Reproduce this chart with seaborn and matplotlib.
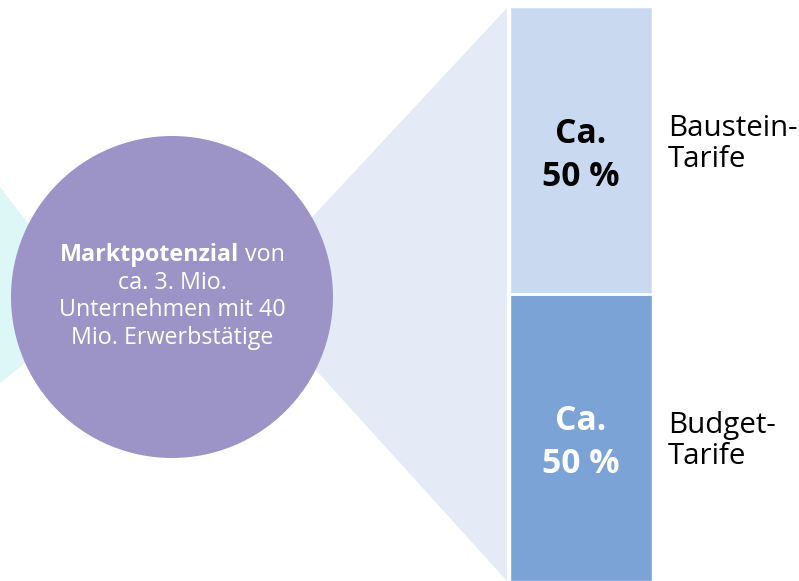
import matplotlib
matplotlib.use("Agg")
import matplotlib.pyplot as plt
from matplotlib.patches import Circle, Polygon
import seaborn as sns
import pandas as pd

# ---- data ----
segments = ["Budget-Tarife", "Baustein-Tarife"]
shares = [50, 50]
segment_labels = ["Budget-\nTarife", "Baustein-\nTarife"]
value_labels = ["Ca.\n50 %", "Ca.\n50 %"]
circle_bold = "Marktpotenzial"
circle_rest_first = " von"
circle_lines = ["ca. 3. Mio.", "Unternehmen mit 40", "Mio. Erwerbstätige"]

# ---- colours ----
c_cyan = "#DDF6F6"
c_purple = "#9C94C7"
c_funnel = "#E4EAF6"
c_light = "#C9DAF0"
c_dark = "#7BA3D6"

sns.set_theme(style="white")
FONT = ["Open Sans", "DejaVu Sans"]
plt.rcParams["font.family"] = FONT

W, H = 799, 581
fig = plt.figure(figsize=(W / 100, H / 100), dpi=100)
fig.canvas.draw()
r = fig.canvas.get_renderer()


def fit_size(text, target_px, weight="normal", base=12):
    t = fig.text(0, 0, text, fontsize=base, fontweight=weight)
    w = t.get_window_extent(r).width
    t.remove()
    return base * target_px / w


# background axes in pixel coordinates
ax0 = fig.add_axes([0, 0, 1, 1])
ax0.set_xlim(0, W)
ax0.set_ylim(H, 0)
ax0.axis("off")

# cyan funnel at the left edge
ax0.add_patch(Polygon([(0, 187), (60, 265), (60, 335), (0, 383)],
                      closed=True, facecolor=c_cyan, edgecolor="none", zorder=1))
# lavender funnel from circle to bar
ax0.add_patch(Polygon([(200, 563.5 - 1.13 * 200), (507, 8), (507, 581),
                       (200, 372 + 1.10 * (200 - 318))],
                      closed=True, facecolor=c_funnel, edgecolor="none", zorder=1))
# purple circle
ax0.add_patch(Circle((172, 297), 161, facecolor=c_purple, edgecolor="none", zorder=2))

# circle text
fs_c = fit_size(circle_lines[1], 227)
tb = ax0.text(0, 255, circle_bold, fontsize=fs_c, fontweight="bold", color="white",
              ha="left", va="center", zorder=3)
tr = ax0.text(0, 255, circle_rest_first, fontsize=fs_c, color="white",
              ha="left", va="center", zorder=3)
wb = tb.get_window_extent(r).width
wr = tr.get_window_extent(r).width
x_start = 172 - (wb + wr) / 2
tb.set_x(x_start)
tr.set_x(x_start + wb)
for i, line in enumerate(circle_lines):
    ax0.text(172, 283 + i * 27.5, line, fontsize=fs_c, color="white",
             ha="center", va="center", zorder=3)

# stacked bar axes
axb = fig.add_axes([510 / W, 0, 142 / W, (H - 7) / H])
df = pd.DataFrame({"segment": segments, "share": shares})
total = df["share"].sum()
sns.barplot(x=[0], y=[total], width=1, color=c_light, ax=axb, saturation=1)
sns.barplot(x=[0], y=[df["share"].iloc[0]], width=1, color=c_dark, ax=axb, saturation=1)
axb.axhline(df["share"].iloc[0], color="white", lw=2)
axb.set_xlim(-0.5, 0.5)
axb.set_ylim(0, total)
axb.axis("off")

fs_v = fit_size("50 %", 77, weight="bold")
centers = [df["share"].iloc[0] / 2, df["share"].iloc[0] + df["share"].iloc[1] / 2]
text_cols = ["white", "black"]
for yc, lab, col in zip(centers, value_labels, text_cols):
    axb.text(0, yc - 0.9, lab, ha="center", va="center", fontsize=fs_v,
             fontweight="bold", color=col, linespacing=1.35)

# segment labels to the right
fs_l = fit_size("Baustein-", 129)
label_y = [441, 144]
for y, lab in zip(label_y, segment_labels):
    ax0.text(668, y, lab, ha="left", va="center", fontsize=fs_l, color="black",
             linespacing=1.05)

fig.savefig("out.png", dpi=100)
